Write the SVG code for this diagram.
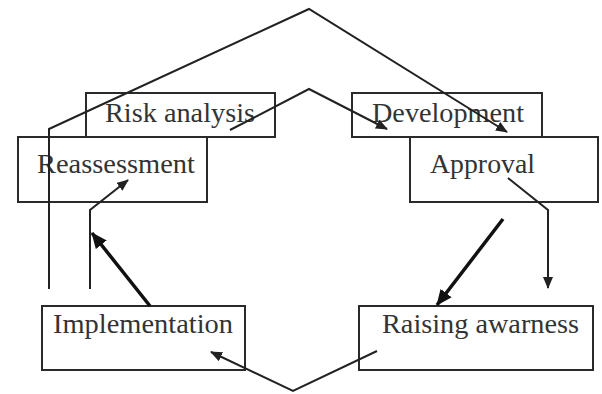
<svg xmlns="http://www.w3.org/2000/svg" width="602" height="394" viewBox="0 0 602 394">
<defs>
<style>
.box{fill:none;stroke:#2a2a2a;stroke-width:2}
.lbl{font-family:"Liberation Serif","Times New Roman",serif;font-size:27px;fill:#333}
.ln{fill:none;stroke:#222;stroke-width:2}
.thk{fill:none;stroke:#111;stroke-width:3.5}
</style>
<marker id="ah" viewBox="0 0 12 10" refX="11" refY="5" markerWidth="12" markerHeight="10" markerUnits="userSpaceOnUse" orient="auto">
<path d="M0,0 L12,5 L0,10 z" fill="#222"/>
</marker>
<marker id="ahb" viewBox="0 0 16 14" refX="15" refY="7" markerWidth="16" markerHeight="14" markerUnits="userSpaceOnUse" orient="auto">
<path d="M0,0 L16,7 L0,14 z" fill="#111"/>
</marker>
</defs>
<rect width="602" height="394" fill="#fff"/>
<g id="risk-analysis">
<rect class="box" x="86" y="93" width="189" height="44"/>
<text class="lbl" x="105" y="122" textLength="150" lengthAdjust="spacingAndGlyphs">Risk analysis</text>
</g>
<g id="reassessment">
<rect class="box" x="18" y="137" width="189" height="65"/>
<text class="lbl" x="37" y="173" textLength="158" lengthAdjust="spacingAndGlyphs">Reassessment</text>
</g>
<g id="development">
<rect class="box" x="352" y="93" width="190" height="44"/>
<text class="lbl" x="372" y="122" textLength="152" lengthAdjust="spacingAndGlyphs">Development</text>
</g>
<g id="approval">
<rect class="box" x="410" y="137" width="188" height="65"/>
<text class="lbl" x="430" y="173" textLength="105" lengthAdjust="spacingAndGlyphs">Approval</text>
</g>
<g id="implementation">
<rect class="box" x="42" y="306" width="203" height="64"/>
<text class="lbl" x="53" y="333" textLength="180" lengthAdjust="spacingAndGlyphs">Implementation</text>
</g>
<g id="raising-awarness">
<rect class="box" x="359" y="306" width="234" height="64"/>
<text class="lbl" x="382" y="333" textLength="197" lengthAdjust="spacingAndGlyphs">Raising awarness</text>
</g>
<g id="connectors">
<polyline class="ln" points="49,289 49,129 309,9 507,132" marker-end="url(#ah)"/>
<polyline class="ln" points="230,130 309,89 387,129" marker-end="url(#ah)"/>
<polyline class="ln" points="508,178 548,210 548,288" marker-end="url(#ah)"/>
<line class="thk" x1="503" y1="219" x2="437" y2="305" marker-end="url(#ahb)"/>
<polyline class="ln" points="377,351 293,391 211,352" marker-end="url(#ah)"/>
<line class="thk" x1="150" y1="306" x2="92" y2="233" marker-end="url(#ahb)"/>
<polyline class="ln" points="90,289 90,210 128,180" marker-end="url(#ah)"/>
</g>
</svg>
